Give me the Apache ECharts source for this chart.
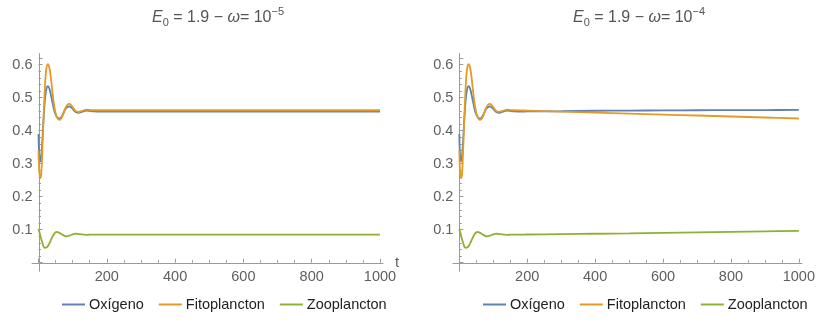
<!DOCTYPE html>
<html><head><meta charset="utf-8">
<script src="https://cdn.jsdelivr.net/npm/echarts@6/dist/echarts.min.js"></script>
<style>html,body{margin:0;padding:0;background:#fff}#c{width:818px;height:324px}</style>
</head><body><div id="c"></div>
<script>
const seriesNames = ['Oxígeno', 'Fitoplancton', 'Zooplancton'];
const titleLeft = '{i|E}{sub|0} = 1.9 \u2212 {i|\u03c9}= 10{sup|\u22125}';
const titleRight = '{i|E}{sub|0} = 1.9 \u2212 {i|\u03c9}= 10{sup|\u22124}';
const xAxisName = 't';

const tValues = [0,2,5,8,12,16,20,24,28,32,36,40,45,50,55,60,65,70,75,80,85,90,95,100,105,110,117,125,133,141,150,160,180,200,300,400,500,600,700,800,900,1000];

// Left panel (omega = 1e-5)
const oxLeft = [0.39,0.33,0.307,0.322,0.385,0.455,0.505,0.530,0.535,0.527,0.510,0.490,0.466,0.449,0.440,0.437,0.439,0.447,0.458,0.467,0.472,0.474,0.471,0.466,0.460,0.456,0.454,0.456,0.459,0.461,0.460,0.459,0.458,0.458,0.458,0.458,0.458,0.458,0.458,0.458,0.458,0.458];
const fitoLeft = [0.34,0.28,0.256,0.268,0.36,0.47,0.555,0.594,0.602,0.590,0.562,0.525,0.482,0.454,0.439,0.433,0.435,0.444,0.458,0.471,0.479,0.481,0.478,0.471,0.464,0.459,0.457,0.459,0.462,0.464,0.463,0.462,0.462,0.462,0.462,0.462,0.462,0.462,0.462,0.462,0.462,0.462];
const zooLeft = [0.102,0.095,0.083,0.071,0.058,0.047,0.0448,0.047,0.051,0.059,0.068,0.077,0.086,0.092,0.093,0.091,0.088,0.085,0.082,0.080,0.0805,0.082,0.084,0.086,0.0875,0.088,0.087,0.086,0.085,0.0845,0.0848,0.085,0.085,0.085,0.085,0.085,0.085,0.085,0.085,0.085,0.085,0.085];

// Right panel (omega = 1e-4)
const oxRight = [0.39,0.33,0.307,0.322,0.385,0.455,0.505,0.530,0.535,0.527,0.510,0.490,0.466,0.449,0.440,0.437,0.439,0.447,0.458,0.467,0.472,0.474,0.471,0.466,0.460,0.456,0.454,0.456,0.459,0.461,0.460,0.459,0.458,0.4585,0.459,0.4605,0.461,0.4615,0.462,0.4622,0.4625,0.463];
const fitoRight = [0.34,0.28,0.256,0.268,0.36,0.47,0.555,0.594,0.602,0.590,0.562,0.525,0.482,0.454,0.439,0.433,0.435,0.444,0.458,0.471,0.479,0.481,0.478,0.471,0.464,0.459,0.457,0.459,0.462,0.464,0.463,0.462,0.4615,0.461,0.458,0.455,0.452,0.449,0.446,0.443,0.440,0.437];
const zooRight = [0.102,0.095,0.083,0.071,0.058,0.047,0.0448,0.047,0.051,0.059,0.068,0.077,0.086,0.092,0.093,0.091,0.088,0.085,0.082,0.080,0.0805,0.082,0.084,0.086,0.0875,0.088,0.087,0.086,0.085,0.0845,0.0848,0.085,0.0852,0.0855,0.0865,0.0878,0.089,0.0905,0.092,0.0935,0.095,0.0965];

const colors = ['#5E81B5', '#E19C24', '#8FB032'];
const FONT = 'Liberation Sans, Arial, sans-serif';
const AX = '#9a9a9a';
const LBL = '#5f5f5f';

function pairs(arr){ return tValues.map((t,i)=>[t, arr[i]]); }

function mkX(i, withName){
  return {
    type:'value', gridIndex:i, min:0, max:1000, interval:200,
    axisLine:{show:false},
    axisTick:{show:true, inside:true, length:4, lineStyle:{color:AX, width:1}},
    minorTick:{show:true, splitNumber:4, length:2.5, lineStyle:{color:AX, width:1}},
    splitLine:{show:false}, minorSplitLine:{show:false},
    axisLabel:{showMinLabel:false, color:LBL, fontSize:14.5, fontFamily:FONT, margin:7,
      formatter:v=>String(v)},
    name: withName ? xAxisName : '', nameLocation:'end', nameGap:15, nameMoveOverlap:false,
    nameTextStyle:{color:LBL, fontSize:15, fontFamily:FONT, padding:[0,0,4,0]}
  };
}
function mkY(i){
  return {
    type:'value', gridIndex:i, min:0, max:0.62, interval:0.1,
    axisLine:{show:false},
    axisTick:{show:true, inside:true, length:4, lineStyle:{color:AX, width:1}},
    minorTick:{show:true, splitNumber:5, length:2.5, lineStyle:{color:AX, width:1}},
    splitLine:{show:false}, minorSplitLine:{show:false},
    axisLabel:{showMinLabel:false, showMaxLabel:false, color:LBL, fontSize:14.5, fontFamily:FONT, margin:6,
      formatter:v=>v.toFixed(1)}
  };
}
function mkSeries(i, arrs){
  return arrs.map((a,k)=>({
    type:'line', name:seriesNames[k], xAxisIndex:i, yAxisIndex:i,
    data:pairs(a), showSymbol:false, symbol:'none', smooth:0.35, clip:false,
    lineStyle:{color:colors[k], width:1.8}, itemStyle:{color:colors[k]}, z:2+k
  }));
}
const titleStyle = {
  fontSize:16, fontFamily:FONT, color:'#555', fontWeight:'normal', lineHeight:22,
  rich:{
    i:{fontStyle:'italic', fontSize:16, fontFamily:FONT, color:'#555', lineHeight:22},
    sub:{fontSize:11, fontFamily:FONT, color:'#555', lineHeight:11, verticalAlign:'bottom'},
    sup:{fontSize:11, fontFamily:FONT, color:'#555', lineHeight:13, verticalAlign:'top'}
  }
};
function mkLegend(left){
  return {left:left, top:297, padding:0, icon:'rect', itemWidth:23, itemHeight:2, itemGap:15,
    textStyle:{fontSize:14.5, fontFamily:FONT, color:'#222', padding:[0,0,0,-1]}, data:seriesNames};
}

const chart = echarts.init(document.getElementById('c'), null, {renderer:'canvas'});
const gTop = 58.1, gH = 204.6, gW = 341.5;
chart.setOption({
  animation:false,
  color:colors,
  title:[
    {text:titleLeft, left:218, top:6.5, padding:0, textAlign:'center', textStyle:titleStyle},
    {text:titleRight, left:639, top:6.5, padding:0, textAlign:'center', textStyle:titleStyle}
  ],
  legend:[mkLegend(62), mkLegend(483)],
  grid:[
    {left:38.5, top:gTop, width:gW, height:gH},
    {left:459.3, top:gTop, width:gW, height:gH}
  ],
  xAxis:[mkX(0,true), mkX(1,false)],
  yAxis:[mkY(0), mkY(1)],
  series:[].concat(mkSeries(0,[oxLeft,fitoLeft,zooLeft]), mkSeries(1,[oxRight,fitoRight,zooRight]))
});

// Mathematica-style axes that run a little past the origin and the last tick
const g = [];
for (let i=0;i<2;i++){
  const f = {gridIndex:i};
  const a = chart.convertToPixel(f,[-20,0]);
  const b = chart.convertToPixel(f,[1010,0]);
  const c = chart.convertToPixel(f,[0,-0.027]);
  const d = chart.convertToPixel(f,[0,0.635]);
  g.push({type:'line', shape:{x1:a[0],y1:Math.round(a[1])+0.5,x2:b[0],y2:Math.round(b[1])+0.5}, style:{stroke:AX, lineWidth:1}, z:1});
  g.push({type:'line', shape:{x1:Math.round(c[0])+0.5,y1:c[1],x2:Math.round(d[0])+0.5,y2:d[1]}, style:{stroke:AX, lineWidth:1}, z:1});
}
chart.setOption({graphic:g});
</script>
</body></html>
